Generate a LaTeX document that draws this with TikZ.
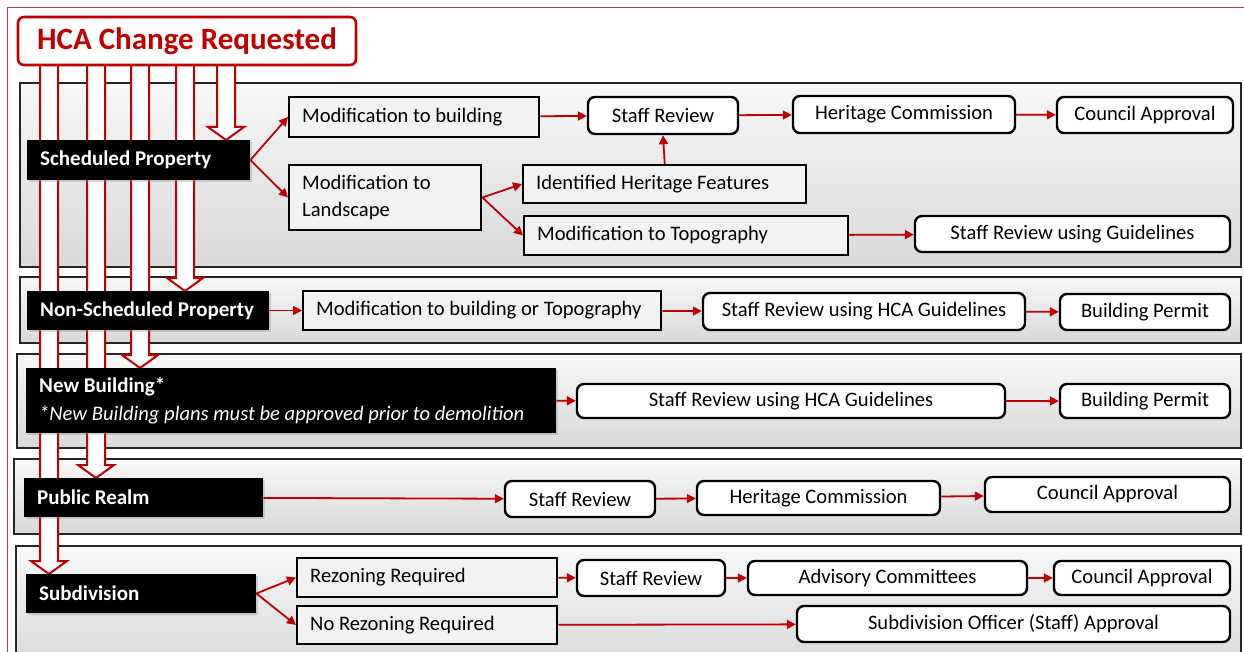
\documentclass[tikz,border=0pt]{standalone}
\usepackage{fontspec}
\setmainfont{Carlito}
\usetikzlibrary{arrows.meta,shadows}
\definecolor{hcared}{HTML}{C00000}
\definecolor{framered}{HTML}{B04050}
\definecolor{boxgray}{HTML}{F2F2F2}

\begin{document}
\begin{tikzpicture}[x=1pt, y=-1pt, font=\fontsize{20.6}{27}\selectfont]
\tikzset{
  band/.style={draw=black!85, line width=1.5pt, top color=gray!6, bottom color=gray!30},
  bigarrow/.style={draw=hcared, line width=2pt, fill=white, line join=miter},
  title/.style={draw=hcared, line width=2.6pt, rounded corners=6pt, fill=white, text=hcared,
    font=\fontsize{31}{36}\selectfont\bfseries, minimum width=338pt, minimum height=48pt},
  cat/.style={fill=black, text=white, anchor=west, inner xsep=13pt, align=flush left,
    font=\fontsize{21}{28}\selectfont\bfseries,
    drop shadow={opacity=.3, shadow xshift=2pt, shadow yshift=-2pt}},
  sq/.style={draw, line width=2.4pt, fill=boxgray, anchor=west, inner xsep=13pt, align=flush left},
  rd/.style={draw, line width=2.4pt, rounded corners=7pt, fill=white, inner sep=2pt},
  flow/.style={draw=hcared, line width=1.8pt, -{Triangle[length=9pt, width=9pt]}}
}
\useasboundingbox (0,0) rectangle (1244,652);
\draw[framered, line width=1pt] (7,8) rectangle (1270,680);

% bands
\draw[band] (20,83) rectangle (1241,267);
\draw[band] (20,277) rectangle (1241,343);
\draw[band] (17,354) rectangle (1241,448);
\draw[band] (14,459) rectangle (1241,534);
\draw[band] (16,546) rectangle (1241,670);

% block arrows from the request down to each category
\foreach \cx/\tip in {49/574, 96/478, 140/368, 185/291, 226/140}
  \draw[bigarrow] (\cx-9,60) -- (\cx-9,\tip-13) -- (\cx-18,\tip-13) -- (\cx,\tip)
    -- (\cx+18,\tip-13) -- (\cx+9,\tip-13) -- (\cx+9,60);

\node[title] (hca) at (187,41) {HCA Change Requested};

% categories
\node[cat, text width=197pt, minimum height=40pt] (sched) at (27,160) {Scheduled Property};
\node[cat, text width=216pt, minimum height=39pt] (nonsch) at (27,310.5) {Non-Scheduled Property};
\node[cat, text width=504pt, minimum height=65pt] (newb) at (26,400.5)
  {New Building*\\{\mdseries\itshape\fontsize{20.6}{27}\selectfont *New Building plans must be approved prior to demolition}};
\node[cat, text width=213pt, minimum height=39pt] (pub) at (24,497.5) {Public Realm};
\node[cat, text width=204pt, minimum height=39pt] (subd) at (26,593.5) {Subdivision};

% scheduled property
\node[sq, text width=224pt, minimum height=40pt] (modb) at (288,117) {Modification to building};
\node[sq, text width=166pt, minimum height=65pt] (modl) at (288,197.5) {Modification to\\Landscape};
\node[sq, text width=257pt, minimum height=38pt] (ihf) at (522,184) {Identified Heritage Features};
\node[sq, text width=298pt, minimum height=39pt] (topo) at (523,235.5) {Modification to Topography};
\node[rd, minimum width=150pt, minimum height=37pt] (sr1) at (663,115.5) {Staff Review};
\node[rd, minimum width=222pt, minimum height=37pt] (hc1) at (904,114.5) {Heritage Commission};
\node[rd, minimum width=176pt, minimum height=36pt] (ca1) at (1145,115) {Council Approval};
\node[rd, minimum width=315pt, minimum height=36pt] (srg) at (1072.5,234) {Staff Review using Guidelines};

% non-scheduled property
\node[sq, text width=332pt, minimum height=39pt] (modbt) at (302,310.5) {Modification to building or Topography};
\node[rd, minimum width=322pt, minimum height=37pt] (srh2) at (864,311.5) {Staff Review using HCA Guidelines};
\node[rd, minimum width=170pt, minimum height=36pt] (bp2) at (1145,312) {Building Permit};

% new building
\node[rd, minimum width=428pt, minimum height=34pt] (srh3) at (791,401) {Staff Review using HCA Guidelines};
\node[rd, minimum width=170pt, minimum height=34pt] (bp3) at (1145,401) {Building Permit};

% public realm
\node[rd, minimum width=150pt, minimum height=36pt] (sr4) at (580,499) {Staff Review};
\node[rd, minimum width=243pt, minimum height=34pt] (hc4) at (818.5,498) {Heritage Commission};
\node[rd, minimum width=245pt, minimum height=35pt] (ca4) at (1107.5,494.5) {Council Approval};

% subdivision
\node[sq, text width=234pt, minimum height=39pt] (rez) at (296,577.5) {Rezoning Required};
\node[sq, text width=234pt, minimum height=38pt] (norez) at (296,625) {No Rezoning Required};
\node[rd, minimum width=148pt, minimum height=36pt] (sr5) at (651,578) {Staff Review};
\node[rd, minimum width=279pt, minimum height=34pt] (adv) at (887.5,578) {Advisory Committees};
\node[rd, minimum width=176pt, minimum height=34pt] (ca5) at (1142,578) {Council Approval};
\node[rd, minimum width=433pt, minimum height=36pt] (sdo) at (1013.5,624) {Subdivision Officer (Staff) Approval};

\foreach \from/\to in {sched.east/modb.west, sched.east/modl.west, modb/sr1, sr1/hc1, hc1/ca1,
    modl.east/ihf.west, modl.east/topo.west, ihf.north/sr1.south, topo/srg,
    nonsch/modbt, modbt/srh2, srh2/bp2, newb/srh3, srh3/bp3,
    pub/sr4, sr4/hc4, hc4/ca4,
    subd.east/rez.west, subd.east/norez.west, rez/sr5, sr5/adv, adv/ca5, norez/sdo}
  \draw[flow] (\from) -- (\to);
\end{tikzpicture}
\end{document}
